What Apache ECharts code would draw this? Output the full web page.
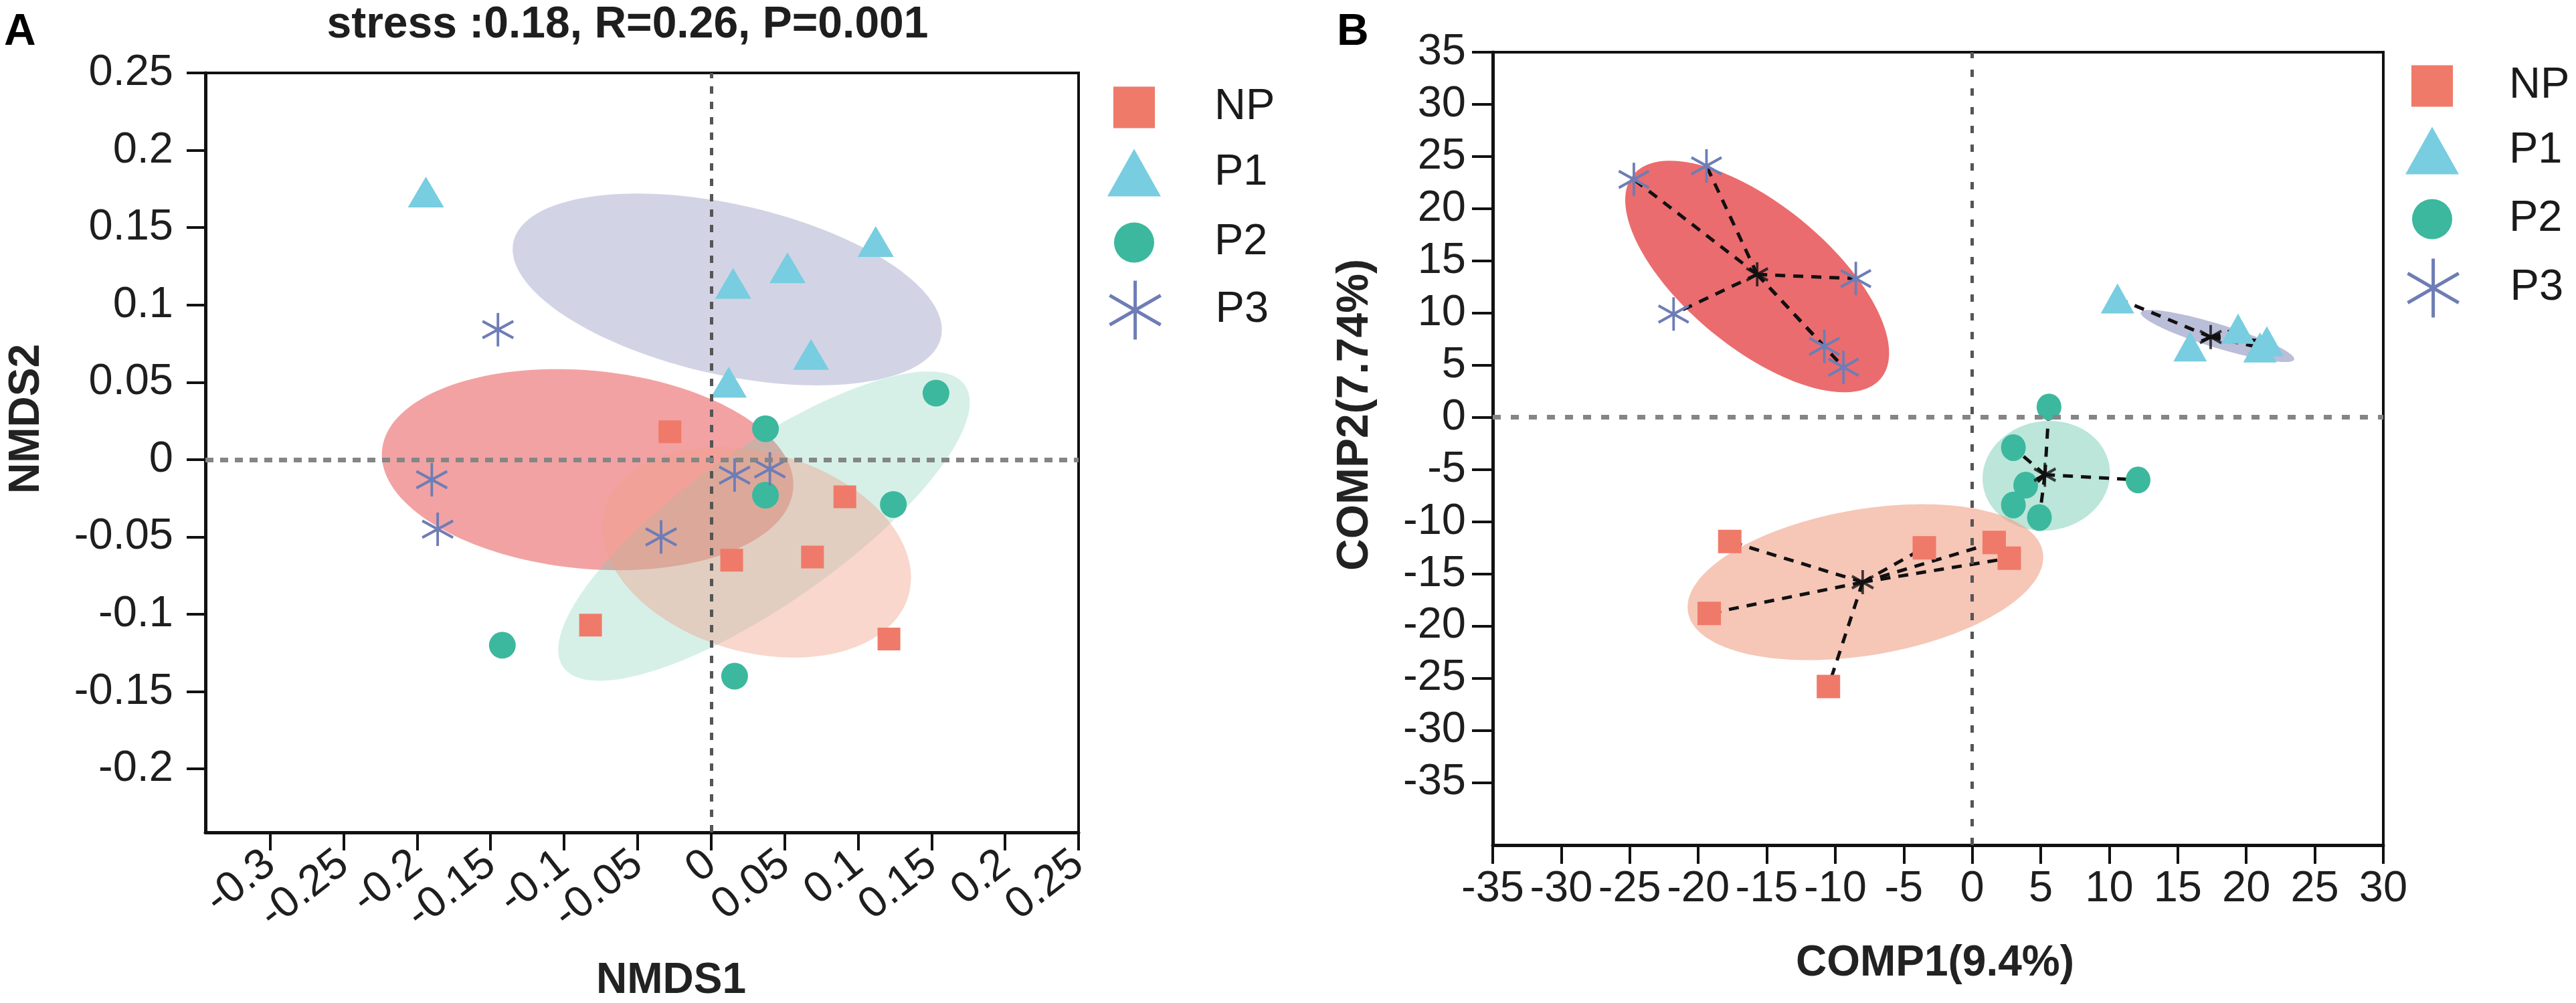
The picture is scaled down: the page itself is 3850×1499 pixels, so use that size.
<!DOCTYPE html>
<html>
<head>
<meta charset="utf-8">
<script src="https://cdn.jsdelivr.net/npm/echarts@6/dist/echarts.min.js"></script>
<style>
html, body { margin: 0; padding: 0; background: #fff; }
#chart { width: 3850px; height: 1499px; }
</style>
</head>
<body>
<div id="chart"></div>
<script>
const FONT = 'Arial, "Liberation Sans", Helvetica, sans-serif';

// ---- panel A : NMDS ----
let xTicksA = [-0.3, -0.25, -0.2, -0.15, -0.1, -0.05, 0, 0.05, 0.1, 0.15, 0.2, 0.25];
let yTicksA = [-0.2, -0.15, -0.1, -0.05, 0, 0.05, 0.1, 0.15, 0.2, 0.25];

let npA = [[-0.028, 0.018], [0.091, -0.024], [0.014, -0.065], [0.069, -0.063], [-0.082, -0.107], [0.121, -0.116]];
let p1A = [[-0.194, 0.173], [0.112, 0.141], [0.052, 0.124], [0.015, 0.114], [0.068, 0.068], [0.012, 0.050]];
let p2A = [[0.153, 0.043], [0.037, 0.020], [0.037, -0.023], [0.124, -0.029], [-0.142, -0.120], [0.016, -0.140]];
let p3A = [[-0.145, 0.084], [-0.190, -0.013], [-0.186, -0.045], [-0.034, -0.050], [0.016, -0.010], [0.040, -0.006]];

// ellipse: [centre x, centre y, half width, half height, correlation]
let ellP3A = [-0.084, -0.0065, 0.140, 0.065, -0.15];
let ellP1A = [0.011, 0.110, 0.146, 0.062, -0.42];
let ellP2A = [0.036, -0.043, 0.140, 0.100, 0.80];
let ellNPA = [0.031, -0.060, 0.105, 0.068, -0.24];

// ---- panel B : PCoA ----
let xTicksB = [-35, -30, -25, -20, -15, -10, -5, 0, 5, 10, 15, 20, 25, 30];
let yTicksB = [-35, -30, -25, -20, -15, -10, -5, 0, 5, 10, 15, 20, 25, 30, 35];

let npB = [[-17.7, -11.9], [-3.5, -12.5], [1.6, -12.0], [2.7, -13.5], [-19.2, -18.8], [-10.5, -25.8]];
let p1B = [[10.6, 11.4], [15.9, 6.8], [19.4, 8.5], [21.5, 7.3], [21.0, 6.7]];
let p2B = [[5.6, 1.0], [3.0, -2.9], [12.1, -6.0], [3.9, -6.5], [3.0, -8.4], [4.9, -9.6]];
let p3B = [[-24.7, 22.8], [-19.4, 24.1], [-8.5, 13.3], [-21.8, 9.9], [-10.8, 6.8], [-9.4, 4.8]];

let centroidNPB = [-8.0, -15.8];
let centroidP1B = [17.4, 7.7];
let centroidP2B = [5.3, -5.5];
let centroidP3B = [-15.7, 13.7];

let ellP3B = [-15.7, 13.5, 9.63, 11.1, -0.66];
let ellP1B = [17.9, 7.8, 5.6, 2.5, -0.88];
let ellP2B = [5.4, -5.6, 4.65, 5.26, 0.05];
let ellNPB = [-7.8, -15.8, 12.98, 7.47, 0.32];

let groupNames = ['NP', 'P1', 'P2', 'P3'];

const STAR = 'path://M0,-25L0,25M-21.65,-12.5L21.65,12.5M-21.65,12.5L21.65,-12.5';
const colors = { NP: '#ef7a69', P1: '#78cde0', P2: '#3cb89e', P3: '#6e7db5' };
const symbols = { NP: 'rect', P1: 'triangle', P2: 'circle', P3: STAR };

function ellipseSeries(idx, rows, fills) {
    return {
        type: 'custom',
        name: 'ellipse' + idx,
        xAxisIndex: idx, yAxisIndex: idx,
        z: 2,
        silent: true,
        data: rows,
        encode: { x: 0, y: 1 },
        renderItem: function (params, api) {
            const cx = api.value(0), cy = api.value(1), hx = api.value(2), hy = api.value(3), rho = api.value(4);
            const s = Math.sqrt(1 - rho * rho);
            const pts = [];
            for (let i = 0; i < 160; i++) {
                const t = i / 160 * Math.PI * 2;
                pts.push(api.coord([cx + hx * Math.cos(t), cy + hy * (rho * Math.cos(t) + s * Math.sin(t))]));
            }
            return { type: 'polygon', shape: { points: pts }, style: { fill: fills[params.dataIndex] } };
        }
    };
}

function pointSeries(idx, name, data, size) {
    const star = name === 'P3';
    return {
        type: 'scatter',
        name: name,
        xAxisIndex: idx, yAxisIndex: idx,
        z: 4,
        data: data,
        symbol: symbols[name],
        symbolSize: size,
        itemStyle: star
            ? { color: colors[name], borderColor: colors[name], borderWidth: 4, opacity: 1 }
            : { color: colors[name], opacity: 1 }
    };
}

function refLines(idx, vDash, hDash) {
    return {
        type: 'scatter',
        name: 'ref' + idx,
        xAxisIndex: idx, yAxisIndex: idx,
        data: [],
        z: 1,
        silent: true,
        markLine: {
            silent: true,
            symbol: 'none',
            animation: false,
            label: { show: false },
            data: [
                { xAxis: 0, lineStyle: { color: '#555', width: 5, type: vDash } },
                { yAxis: 0, lineStyle: { color: '#858585', width: 7, type: hDash } }
            ]
        }
    };
}

function spokes(groups) {
    const out = [];
    groups.forEach(function (g) {
        g.pts.forEach(function (p) {
            out.push({ coords: [g.c, p] });
        });
    });
    return out;
}

// legend: one small legend per entry so every icon can keep its own size
const iconSize = { NP: [62, 62], P1: [80, 71], P2: [60, 60], P3: [78, 88] };
function legendColumn(cx, cys, textX) {
    return groupNames.map(function (n, i) {
        const w = iconSize[n][0], h = iconSize[n][1];
        const left = cx - w / 2;
        return {
            data: [n === 'P3' ? { name: n, itemStyle: { borderWidth: 5 } } : n],
            orient: 'vertical',
            left: left,
            top: cys[i] - h / 2,
            padding: 0,
            itemWidth: w,
            itemHeight: h,
            selectedMode: false,
            textStyle: { fontSize: 65, fontFamily: FONT, color: '#1a1a1a', padding: [0, 0, 0, textX - (left + w + 5)] }
        };
    });
}

function axisCommon(ticks, tickLen, margin, rotate) {
    return {
        type: 'value',
        splitLine: { show: false },
        axisLine: { show: true, onZero: false, lineStyle: { color: '#111', width: 5 } },
        axisTick: { show: true, customValues: ticks, length: tickLen, lineStyle: { color: '#111', width: 4 } },
        axisLabel: { customValues: ticks, margin: margin, rotate: rotate || 0, fontSize: 65, fontFamily: FONT, color: '#1e1e1e' }
    };
}

const chart = echarts.init(document.getElementById('chart'), null, { renderer: 'canvas' });

const option = {
    animation: false,
    backgroundColor: '#fff',
    textStyle: { fontFamily: FONT },
    grid: [
        { left: 307, top: 109, width: 1305, height: 1135, show: true, borderColor: '#111', borderWidth: 4 },
        { left: 2231, top: 78, width: 1331, height: 1185, show: true, borderColor: '#111', borderWidth: 4 }
    ],
    xAxis: [
        Object.assign(axisCommon(xTicksA, 27, 40, 38), { gridIndex: 0, min: -0.344, max: 0.25 }),
        Object.assign(axisCommon(xTicksB, 28, 34), { gridIndex: 1, min: -35, max: 30 })
    ],
    yAxis: [
        Object.assign(axisCommon(yTicksA, 28, 48), { gridIndex: 0, min: -0.241, max: 0.25 }),
        Object.assign(axisCommon(yTicksB, 31, 40), { gridIndex: 1, min: -41, max: 35 })
    ],
    legend: legendColumn(1695, [159, 258, 360, 461], 1815).concat(legendColumn(3635, [127, 225, 325, 428], 3750)),
    graphic: [
        { type: 'text', x: 6, y: 16, style: { text: 'A', font: 'bold 66px ' + FONT, fill: '#000', textAlign: 'left', textVerticalAlign: 'top' } },
        { type: 'text', x: 1998, y: 16, style: { text: 'B', font: 'bold 66px ' + FONT, fill: '#000', textAlign: 'left', textVerticalAlign: 'top' } },
        { type: 'text', x: 938, y: 38, style: { text: 'stress :0.18, R=0.26, P=0.001', font: 'bold 66px ' + FONT, fill: '#1e1e1e', textAlign: 'center', textVerticalAlign: 'middle' } },
        { type: 'text', x: 1003, y: 1466, style: { text: 'NMDS1', font: 'bold 64px ' + FONT, fill: '#222', textAlign: 'center', textVerticalAlign: 'middle' } },
        { type: 'text', x: 40, y: 626, rotation: Math.PI / 2, style: { text: 'NMDS2', font: 'bold 64px ' + FONT, fill: '#222', textAlign: 'center', textVerticalAlign: 'middle' } },
        { type: 'text', x: 2892, y: 1440, style: { text: 'COMP1(9.4%)', font: 'bold 64px ' + FONT, fill: '#222', textAlign: 'center', textVerticalAlign: 'middle' } },
        { type: 'text', x: 2026, y: 620, rotation: Math.PI / 2, style: { text: 'COMP2(7.74%)', font: 'bold 66px ' + FONT, fill: '#222', textAlign: 'center', textVerticalAlign: 'middle' } }
    ],
    series: [
        refLines(0, [11, 12], [12, 10]),
        ellipseSeries(0, [ellP3A, ellP1A, ellP2A, ellNPA],
            ['rgba(234,100,102,0.6)', 'rgba(150,155,195,0.43)', 'rgba(120,205,180,0.3)', 'rgba(240,160,135,0.42)']),
        pointSeries(0, 'NP', npA, 34),
        pointSeries(0, 'P1', p1A, [54, 46]),
        pointSeries(0, 'P2', p2A, 40),
        pointSeries(0, 'P3', p3A, [46, 50]),

        refLines(1, [11, 17], [12, 15]),
        ellipseSeries(1, [ellP3B, ellP1B, ellP2B, ellNPB],
            ['rgba(234,100,102,0.95)', 'rgba(150,155,195,0.65)', 'rgba(120,205,180,0.5)', 'rgba(240,160,135,0.6)']),
        {
            type: 'lines',
            name: 'spokes',
            coordinateSystem: 'cartesian2d',
            xAxisIndex: 1, yAxisIndex: 1,
            z: 3,
            silent: true,
            lineStyle: { color: '#111', width: 5, type: [15, 12], opacity: 1 },
            data: spokes([
                { c: centroidNPB, pts: npB },
                { c: centroidP1B, pts: p1B },
                { c: centroidP2B, pts: p2B },
                { c: centroidP3B, pts: p3B }
            ])
        },
        pointSeries(1, 'NP', npB, 35),
        pointSeries(1, 'P1', p1B, [50, 45]),
        pointSeries(1, 'P2', p2B, [37, 40]),
        pointSeries(1, 'P3', p3B, [45, 50]),
        {
            type: 'scatter',
            name: 'centroid',
            xAxisIndex: 1, yAxisIndex: 1,
            z: 5,
            silent: true,
            symbol: STAR,
            symbolSize: [32, 36],
            itemStyle: { color: '#111', borderColor: '#111', borderWidth: 4 },
            data: [centroidNPB, centroidP1B, centroidP2B, centroidP3B]
        }
    ]
};

chart.setOption(option);
</script>
</body>
</html>
